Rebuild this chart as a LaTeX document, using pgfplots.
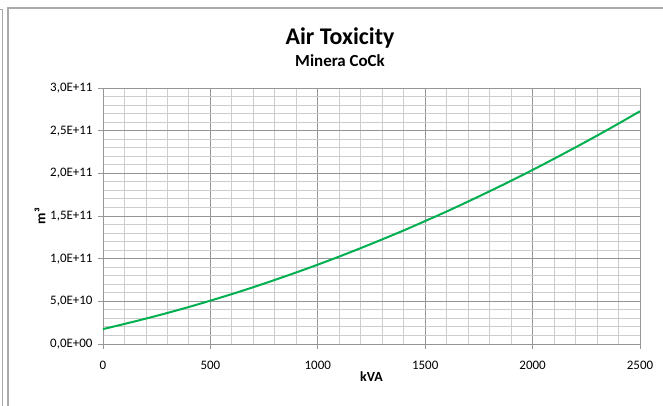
\documentclass[border=0pt]{standalone}
\usepackage{pgfplots}
\pgfplotsset{compat=1.18}
\usepackage{fontspec}
\setmainfont{Carlito}
\definecolor{linegreen}{RGB}{0,176,80}
\definecolor{majgrid}{RGB}{150,150,150}
\definecolor{mingrid}{RGB}{205,205,205}
\definecolor{frame}{RGB}{170,170,170}
\begin{document}
\begin{tikzpicture}[x=1bp,y=1bp]
\useasboundingbox (-103,-61) rectangle (560,344);
\draw[frame, line width=1.2bp] (-95,-70) -- (-95,336) -- (570,336);
\draw[frame, line width=1bp] (-110,335) -- (-100.5,335) -- (-100.5,-70);
\begin{axis}[
  at={(0,0)}, anchor=origin,
  scale only axis, width=537bp, height=256bp,
  xmin=0, xmax=2500, ymin=0, ymax=3e11,
  xtick={0,500,...,2500},
  minor xtick={100,200,...,2400},
  ytick={0,5e10,1e11,1.5e11,2e11,2.5e11,3e11},
  yticklabels={{0,0E+00},{5,0E+10},{1,0E+11},{1,5E+11},{2,0E+11},{2,5E+11},{3,0E+11}},
  minor ytick={1e10,2e10,3e10,4e10,6e10,7e10,8e10,9e10,1.1e11,1.2e11,1.3e11,1.4e11,1.6e11,1.7e11,1.8e11,1.9e11,2.1e11,2.2e11,2.3e11,2.4e11,2.6e11,2.7e11,2.8e11,2.9e11},
  scaled y ticks=false,
  xticklabel style={font=\fontsize{13}{15}\selectfont, yshift=-9bp},
  yticklabel style={font=\fontsize{13}{15}\selectfont, xshift=-2bp},
  /pgf/number format/assume math mode=true,
  xticklabel={\pgfmathprintnumber[fixed,precision=0,1000 sep={}]{\tick}},
  grid=both,
  major grid style={majgrid, line width=0.9bp},
  minor grid style={mingrid, line width=0.9bp},
  axis line style={majgrid, line width=0.9bp},
  tick style={majgrid, line width=0.9bp},
  major tick length=5bp, minor tick length=0pt,
  tick align=outside,
  xtick pos=bottom, ytick pos=left,
  xlabel={\textbf{kVA}}, ylabel={\textbf{m³}},
  xlabel style={font=\fontsize{14}{16}\selectfont, yshift=5bp},
  ylabel style={font=\fontsize{14}{16}\selectfont, yshift=-2bp},
  every axis plot/.append style={line width=2bp},
]
\addplot[linegreen, smooth, no markers] coordinates {
(0,1.75e10) (100,2.35e10) (200,2.98e10) (300,3.64e10) (400,4.34e10)
(500,5.08e10) (600,5.85e10) (700,6.66e10) (800,7.51e10) (900,8.39e10)
(1000,9.30e10) (1100,1.025e11) (1200,1.124e11) (1300,1.226e11) (1400,1.331e11)
(1500,1.441e11) (1600,1.553e11) (1700,1.670e11) (1800,1.790e11) (1900,1.913e11)
(2000,2.040e11) (2100,2.171e11) (2200,2.305e11) (2300,2.442e11) (2400,2.583e11)
(2500,2.728e11)};
\end{axis}
\node[font=\fontsize{24}{28}\selectfont\bfseries, anchor=base] at (237,300) {Air Toxicity};
\node[font=\fontsize{17}{20}\selectfont\bfseries, anchor=base] at (237,278) {Minera CoCk};
\end{tikzpicture}
\end{document}
